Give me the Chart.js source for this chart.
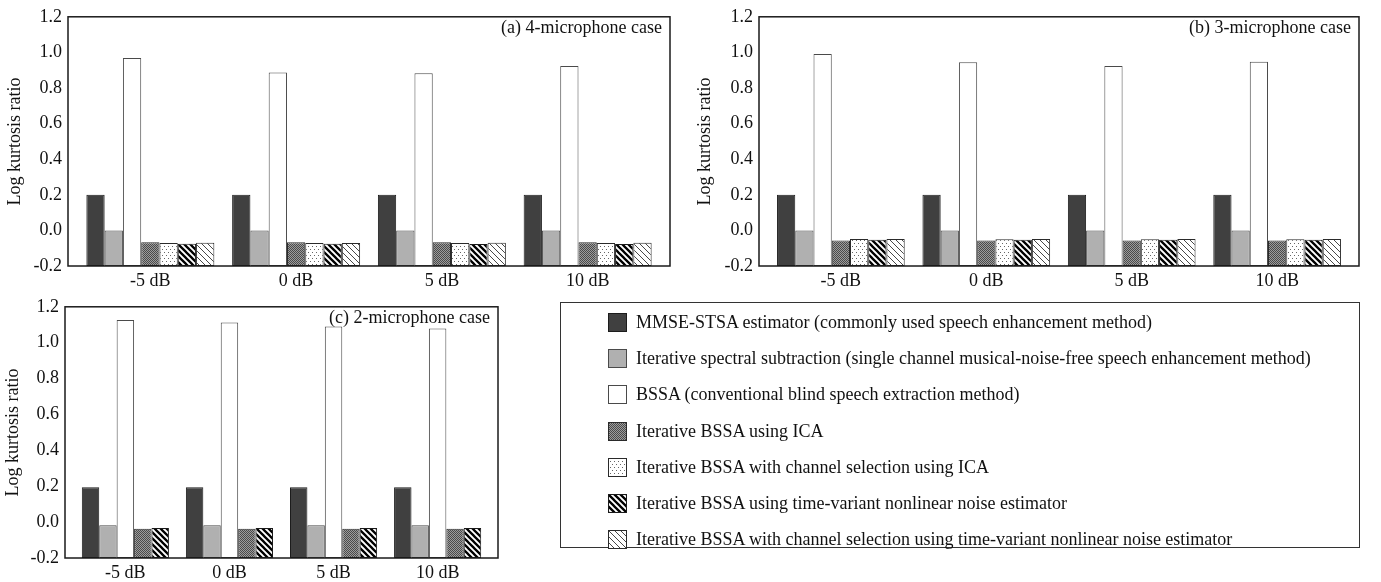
<!DOCTYPE html>
<html>
<head>
<meta charset="utf-8">
<title>Log kurtosis ratio</title>
<script src="https://cdn.jsdelivr.net/npm/chart.js@4.4.1/dist/chart.umd.min.js"></script>
<style>
  body { margin: 0; background: #fff; width: 1381px; height: 582px; overflow: hidden; position: relative;
         font-family: 'Liberation Serif', 'Times New Roman', serif; color: #111; }
  .panel { position: absolute; }
  #legend { position: absolute; left: 560px; top: 302px; width: 800px; height: 246px; box-sizing: border-box;
            border: 1.5px solid #333; padding-top: 1px; }
  .row { display: flex; align-items: center; height: 36.3px; padding-left: 47px; font-size: 18px; white-space: nowrap; }
  .row canvas { margin-right: 9px; }
</style>
</head>
<body>
<div class="panel" style="left:0;top:0;width:680px;height:290px"><canvas id="chartA"></canvas></div>
<div class="panel" style="left:680px;top:0;width:701px;height:290px"><canvas id="chartB"></canvas></div>
<div class="panel" style="left:0;top:290px;width:550px;height:292px"><canvas id="chartC"></canvas></div>
<div id="legend"></div>
<script>
// categories and method names
const categories = ['-5 dB', '0 dB', '5 dB', '10 dB'];
const methodNames = [
    'MMSE-STSA estimator (commonly used speech enhancement method)',
    'Iterative spectral subtraction (single channel musical-noise-free speech enhancement method)',
    'BSSA (conventional blind speech extraction method)',
    'Iterative BSSA using ICA',
    'Iterative BSSA with channel selection using ICA',
    'Iterative BSSA using time-variant nonlinear noise estimator',
    'Iterative BSSA with channel selection using time-variant nonlinear noise estimator'
];

// (a) 4-microphone case
const mmse4 = [0.200, 0.200, 0.200, 0.200];
const spec4 = [0.000, 0.000, 0.000, 0.000];
const bssa4 = [0.969, 0.887, 0.883, 0.923];
const ica4 = [-0.066, -0.066, -0.066, -0.066];
const chIca4 = [-0.071, -0.071, -0.071, -0.071];
const tv4 = [-0.075, -0.075, -0.076, -0.076];
const chTv4 = [-0.069, -0.071, -0.070, -0.070];

// (b) 3-microphone case
const mmse3 = [0.200, 0.200, 0.200, 0.200];
const spec3 = [0.000, 0.000, 0.000, 0.000];
const bssa3 = [0.991, 0.945, 0.923, 0.947];
const ica3 = [-0.057, -0.057, -0.057, -0.057];
const chIca3 = [-0.049, -0.050, -0.050, -0.050];
const tv3 = [-0.053, -0.053, -0.052, -0.053];
const chTv3 = [-0.048, -0.048, -0.048, -0.048];

// (c) 2-microphone case (no channel selection bars)
const mmse2 = [0.195, 0.195, 0.195, 0.195];
const spec2 = [-0.017, -0.017, -0.017, -0.017];
const bssa2 = [1.127, 1.112, 1.090, 1.079];
const ica2 = [-0.037, -0.037, -0.037, -0.037];
const tv2 = [-0.033, -0.033, -0.033, -0.033];

// --- fill patterns ---
function makePattern(w, h, draw) {
    const c = document.createElement('canvas');
    c.width = w; c.height = h;
    const g = c.getContext('2d');
    draw(g, w, h);
    return g.createPattern(c, 'repeat');
}
function hatch(size, width, color) {
    return makePattern(size, size, (g, s) => {
        g.fillStyle = '#fff'; g.fillRect(0, 0, s, s);
        g.strokeStyle = color; g.lineWidth = width;
        g.beginPath();
        for (const o of [-s, 0, s]) { g.moveTo(o - 1, -1); g.lineTo(o + s + 1, s + 1); }
        g.stroke();
    });
}
const stippleDark = makePattern(2, 2, g => {
    g.fillStyle = '#9c9c9c'; g.fillRect(0, 0, 2, 2);
    g.fillStyle = '#4a4a4a'; g.fillRect(0, 0, 1, 1); g.fillRect(1, 1, 1, 1);
});
const dotsLight = makePattern(4, 6, g => {
    g.fillStyle = '#fff'; g.fillRect(0, 0, 4, 6);
    g.fillStyle = '#666'; g.fillRect(0, 0, 1, 1); g.fillRect(2, 3, 1, 1);
});
const hatchDense = hatch(6, 2.3, '#000');
const hatchThin = hatch(6, 0.9, '#333');

const methodStyles = [
    { bg: '#404040', border: '#1c1c1c' },
    { bg: '#b0b0b0', border: '#4a4a4a' },
    { bg: '#ffffff', border: '#4a4a4a' },
    { bg: stippleDark, border: '#2a2a2a' },
    { bg: dotsLight, border: '#2a2a2a' },
    { bg: hatchDense, border: '#1a1a1a' },
    { bg: hatchThin, border: '#2a2a2a' }
];

// frame around the plot area plus the panel caption
const panelFrame = {
    id: 'panelFrame',
    afterDatasetsDraw(chart, args, opts) {
        const { ctx, chartArea: a } = chart;
        ctx.save();
        ctx.strokeStyle = '#1a1a1a';
        ctx.lineWidth = 1.5;
        ctx.strokeRect(a.left, a.top, a.right - a.left, a.bottom - a.top);
        ctx.font = "18px 'Liberation Serif'";
        ctx.fillStyle = '#111';
        ctx.textAlign = 'right';
        ctx.textBaseline = 'middle';
        ctx.fillText(opts.text, a.right - 8, a.top + 11);
        ctx.restore();
    }
};

Chart.defaults.font.family = "'Liberation Serif', 'Times New Roman', serif";
Chart.defaults.font.size = 18;
Chart.defaults.color = '#111';

function makePanel(id, series, cfg) {
    const datasets = series.map(([m, values]) => ({
        label: methodNames[m],
        data: values.map((v, i) => ({ x: i, y: v })),
        backgroundColor: methodStyles[m].bg,
        borderColor: methodStyles[m].border,
        borderWidth: 1,
        borderSkipped: false,
        base: -0.2,
        categoryPercentage: cfg.catPct,
        barPercentage: 1
    }));
    return new Chart(document.getElementById(id), {
        type: 'bar',
        data: { datasets },
        plugins: [panelFrame],
        options: {
            responsive: true,
            maintainAspectRatio: false,
            animation: false,
            layout: { padding: { top: cfg.top, right: cfg.right, left: 0, bottom: 0 } },
            plugins: {
                legend: { display: false },
                tooltip: { enabled: false },
                panelFrame: { text: cfg.caption }
            },
            scales: {
                x: {
                    type: 'linear',
                    min: -cfg.margin,
                    max: categories.length - 1 + cfg.margin,
                    offset: false,
                    grid: { display: false, drawTicks: false, offset: false },
                    border: { display: false },
                    afterBuildTicks: s => { s.ticks = categories.map((_, i) => ({ value: i })); },
                    afterFit: s => { s.height = 24; },
                    ticks: { padding: 4, maxRotation: 0, autoSkip: false, callback: v => categories[v] ?? '' }
                },
                y: {
                    min: -0.2,
                    max: 1.2,
                    grid: { display: false, drawTicks: false },
                    border: { display: false },
                    afterFit: s => { s.width = cfg.axisW; },
                    ticks: {
                        stepSize: 0.2,
                        padding: 6,
                        // avoid "-0.0" from floating point noise
                        callback: v => Math.abs(v) < 1e-9 ? '0.0' : Number(v).toFixed(1)
                    },
                    title: { display: true, text: 'Log kurtosis ratio', padding: { top: cfg.titlePad, bottom: 0 } }
                }
            }
        }
    });
}

const chartA = makePanel('chartA',
    [[0, mmse4], [1, spec4], [2, bssa4], [3, ica4], [4, chIca4], [5, tv4], [6, chTv4]],
    { caption: '(a) 4-microphone case', top: 12, right: 10, axisW: 68, titlePad: 4, margin: 0.565, catPct: 0.878 });
makePanel('chartB',
    [[0, mmse3], [1, spec3], [2, bssa3], [3, ica3], [4, chIca3], [5, tv3], [6, chTv3]],
    { caption: '(b) 3-microphone case', top: 12, right: 22, axisW: 79, titlePad: 14, margin: 0.563, catPct: 0.878 });
makePanel('chartC',
    [[0, mmse2], [1, spec2], [2, bssa2], [3, ica2], [5, tv2]],
    { caption: '(c) 2-microphone case', top: 13, right: 52, axisW: 65, titlePad: 2, margin: 0.58, catPct: 0.837 });

// shared legend built from panel (a) datasets
const legendBox = document.getElementById('legend');
chartA.data.datasets.forEach(ds => {
    const row = document.createElement('div');
    row.className = 'row';
    const sw = document.createElement('canvas');
    sw.width = 19; sw.height = 19;
    const g = sw.getContext('2d');
    g.fillStyle = ds.backgroundColor;
    g.fillRect(0, 0, 19, 19);
    g.strokeStyle = ds.borderColor;
    g.lineWidth = 1;
    g.strokeRect(0.5, 0.5, 18, 18);
    row.appendChild(sw);
    const label = document.createElement('span');
    label.textContent = ds.label;
    row.appendChild(label);
    legendBox.appendChild(row);
});
</script>
</body>
</html>
